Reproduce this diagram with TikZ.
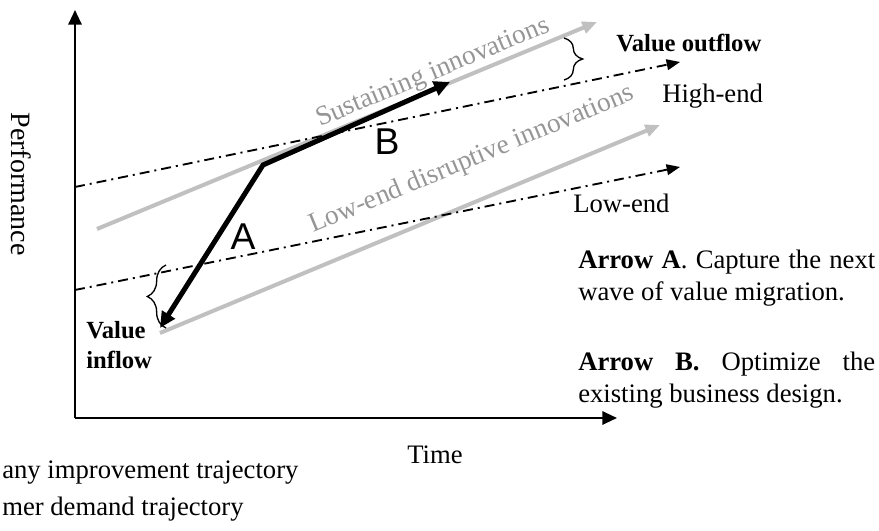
\documentclass[tikz,border=0pt]{standalone}
\usepackage{fontspec}
\setmainfont{Liberation Serif}
\newfontfamily\arialfont{Liberation Sans}
\usetikzlibrary{arrows.meta,decorations.pathreplacing}

\definecolor{trackgray}{RGB}{192,192,192}
\definecolor{labelgray}{RGB}{150,150,150}

\tikzset{
    axis/.style={line width=1.5pt, -{Triangle[length=11pt,width=10pt]}},
    demand/.style={line width=1.4pt, dash pattern=on 7.5pt off 3.75pt on 1.5pt off 3.75pt,
        -{Triangle[length=10pt,width=8pt]}},
    improve/.style={trackgray, line width=3pt, -{Triangle[length=11pt,width=9pt]}},
    move/.style={line width=3.75pt,
        {Triangle[length=12pt,width=11pt]}-{Triangle[length=12pt,width=11pt]}},
    bracket/.style={line width=1pt, decorate, decoration={brace, amplitude=14pt}},
    txt/.style={inner sep=0pt, font=\fontsize{20}{24}\selectfont},
    boldlab/.style={inner sep=0pt, font=\fontsize{18.5}{22.5}\selectfont\bfseries},
    graytxt/.style={inner sep=0pt, font=\fontsize{20.5}{24}\selectfont, text=labelgray},
    letter/.style={inner sep=0pt, font=\arialfont\fontsize{28}{30}\selectfont},
    note/.style={txt, anchor=north west, text width=222.75pt, align=justify},
}

\begin{document}
\begin{tikzpicture}[x=0.75pt, y=-0.75pt]
    \useasboundingbox (0,0) rectangle (879,531);

    % Axes
    \coordinate (O) at (75,418);
    \coordinate (ytop) at (75,10);
    \coordinate (xend) at (617,418);
    \draw[axis] (O) -- (ytop);
    \draw[axis] (O) -- (xend);

    % Company improvement trajectories
    \coordinate (susS) at (97,229);
    \coordinate (susE) at (597,22);
    \coordinate (disS) at (160,333);
    \coordinate (disE) at (660,125);
    \draw[improve] (susS) -- (susE);
    \draw[improve] (disS) -- (disE);

    % Customer demand trajectories
    \coordinate (hiS) at (75,187);
    \coordinate (hiE) at (680,62);
    \coordinate (loS) at (75,290);
    \coordinate (loE) at (680,167);
    \draw[demand] (hiS) -- (hiE);
    \draw[demand] (loS) -- (loE);

    % Arrows A and B
    \coordinate (bend) at (263,165);
    \coordinate (inflow) at (160,328);
    \coordinate (outflow) at (450,82);
    \draw[move] (inflow) -- (bend) -- (outflow);

    % Braces
    \coordinate (outT) at (564,38);
    \coordinate (outB) at (564,80);
    \coordinate (inB) at (166,328);
    \coordinate (inT) at (166,265);
    \draw[bracket] (outT) -- (outB);
    \draw[bracket] (inB) -- (inT);

    % Labels
    \node[letter] (labA) at (243,237) {A};
    \node[letter] (labB) at (387,142) {B};
    \node[graytxt, anchor=base west, rotate=22.5] (susLab) at (320,127) {Sustaining innovations};
    \node[graytxt, anchor=base west, rotate=22.6] (disLab) at (313,233) {Low-end disruptive innovations};
    \node[boldlab, anchor=base west] (outLab) at (616,52) {Value outflow};
    \node[boldlab, anchor=north west, align=left] (inLab) at (86,321) {Value\\inflow};
    \node[txt, anchor=base west] (hiLab) at (662,103) {High-end};
    \node[txt, anchor=base west] (loLab) at (573,213) {Low-end};
    \node[txt, anchor=base west] (timeLab) at (407,463) {Time};
    \node[txt, rotate=-90, font=\fontsize{21}{24}\selectfont] (perfLab) at (21,184) {Performance};

    % Notes
    \node[note] (noteA) at (578,250)
        {\textbf{Arrow A}. Capture the next wave of value \mbox{migration.}};
    \node[note] (noteB) at (578,352)
        {\textbf{Arrow B.} Optimize the \mbox{existing} business design.};

    % Legend (cut at the left edge)
    \node[txt, anchor=base west] (legImp) at (2,478) {any improvement trajectory};
    \node[txt, anchor=base west] (legDem) at (2,515) {mer demand trajectory};
\end{tikzpicture}
\end{document}
